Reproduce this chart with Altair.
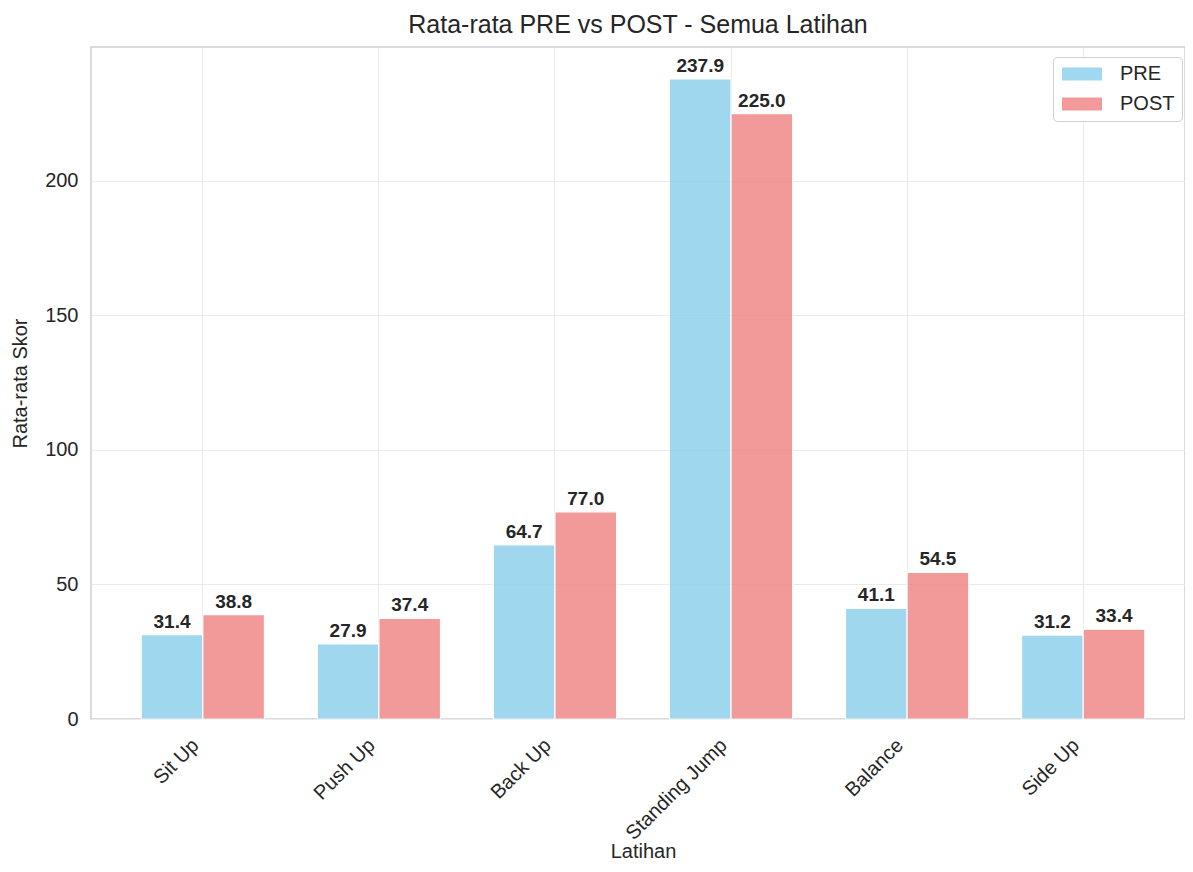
import altair as alt
import pandas as pd

categories = ["Sit Up", "Push Up", "Back Up", "Standing Jump", "Balance", "Side Up"]
pre_values = [31.4, 27.9, 64.7, 237.9, 41.1, 31.2]
post_values = [38.8, 37.4, 77.0, 225.0, 54.5, 33.4]
series = ["PRE", "POST"]
y_ticks = [0, 50, 100, 150, 200]

rows = []
for c, a, b in zip(categories, pre_values, post_values):
    rows.append({"Latihan": c, "Tipe": "PRE", "Skor": a})
    rows.append({"Latihan": c, "Tipe": "POST", "Skor": b})
df = pd.DataFrame(rows)

FONT = "Liberation Sans"
TXT = "#262626"

x_enc = alt.X(
    "Latihan:N",
    sort=categories,
    title="Latihan",
    scale=alt.Scale(paddingInner=0.3, paddingOuter=0.285, range=[0, 1104]),
    axis=alt.Axis(
        labelAngle=-45,
        labelAlign="right",
        labelBaseline="bottom",
        labelPadding=30,
        ticks=False,
        domain=False,
        grid=True,
        titleBaseline="alphabetic",
        titleY=138,
    ),
)
xoff = alt.XOffset("Tipe:N", sort=series, scale=alt.Scale(paddingInner=0, paddingOuter=0))
y_enc = alt.Y(
    "Skor:Q",
    title="Rata-rata Skor",
    scale=alt.Scale(domain=[0, 249.8], nice=False, zero=True),
    axis=alt.Axis(values=y_ticks, ticks=False, domain=False, labelPadding=13, titlePadding=14),
)

base = alt.Chart(df)

bars = base.mark_bar(opacity=0.8, stroke="white", strokeWidth=1.2).encode(
    x=x_enc,
    xOffset=xoff,
    y=y_enc,
    color=alt.Color(
        "Tipe:N",
        sort=series,
        scale=alt.Scale(domain=series, range=["#87CEEB", "#F08080"]),
        legend=alt.Legend(
            title=None,
            orient="none",
            legendX=962,
            legendY=10,
            fillColor="white",
            strokeColor="#d0d0d0",
            cornerRadius=4,
            padding=7,
            symbolType="M-2,-0.65H2V0.65H-2Z",
            symbolSize=400,
            symbolOffset=12,
            symbolOpacity=0.8,
            symbolStrokeWidth=0,
            labelFontSize=20,
            labelFont=FONT,
            labelColor=TXT,
            labelOffset=28,
            rowPadding=10,
        ),
    ),
)

labels = base.mark_text(
    fontWeight="bold", fontSize=19, font=FONT, color=TXT, baseline="alphabetic", dy=-7
).encode(
    x=alt.X("Latihan:N", sort=categories),
    xOffset=alt.XOffset("Tipe:N", sort=series),
    y="Skor:Q",
    text=alt.Text("Skor:Q", format=".1f"),
)

chart = (
    alt.layer(bars, labels)
    .properties(
        width=1094,
        height=672,
        title=alt.TitleParams(
            "Rata-rata PRE vs POST - Semua Latihan",
            fontSize=25,
            font=FONT,
            fontWeight="normal",
            color=TXT,
            offset=9,
        ),
        autosize=alt.AutoSizeParams(type="none"),
        padding={"left": 83, "top": 39, "right": 0, "bottom": 145},
    )
    .configure_view(stroke="#d0d0d0", strokeWidth=1.5)
    .configure_axis(
        labelFont=FONT,
        titleFont=FONT,
        labelFontSize=20,
        titleFontSize=20,
        labelColor=TXT,
        titleColor=TXT,
        titleFontWeight="normal",
        gridColor="#ebebeb",
        gridWidth=1,
    )
)

chart.save("out.html", embed_options={"renderer": "svg", "actions": False})
